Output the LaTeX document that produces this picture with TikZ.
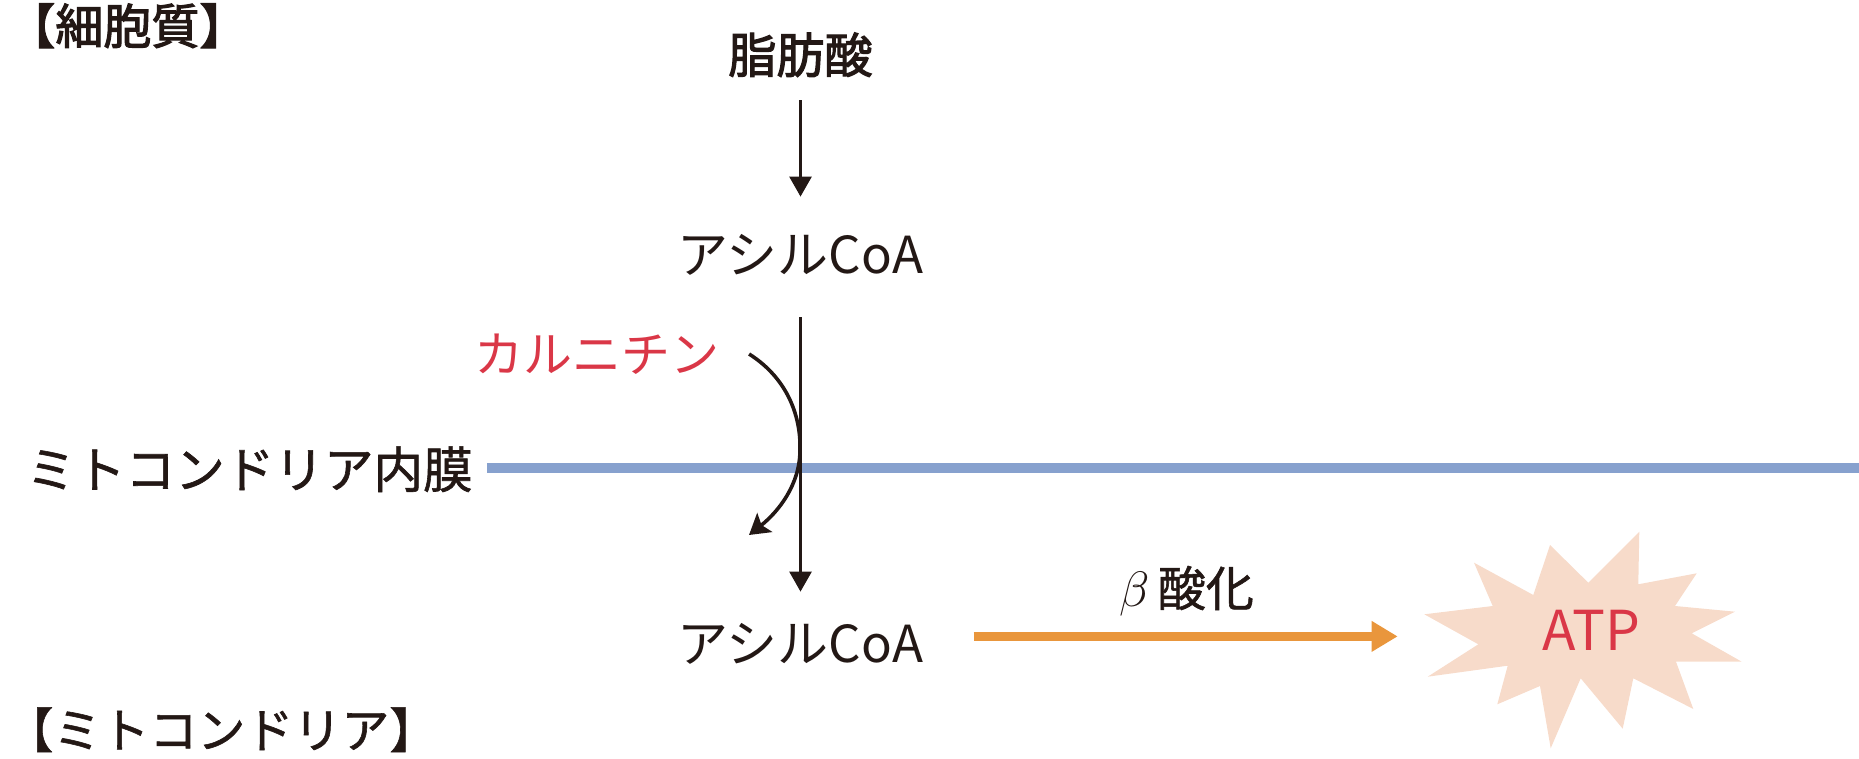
\documentclass[tikz,border=0pt]{standalone}
\usepackage{fontspec}
\setmainfont{Noto Sans CJK JP}
\newfontfamily\jpmed{Noto Sans CJK JP}[FakeBold=1.2]
\newfontfamily\jpbold{Noto Sans CJK JP}[FakeBold=2.4]
\usetikzlibrary{arrows.meta, positioning}

\definecolor{ink}{HTML}{231815}
\definecolor{carnred}{HTML}{DA3747}
\definecolor{membraneblue}{HTML}{87A1CE}
\definecolor{betaorange}{HTML}{E9963C}
\definecolor{burstfill}{HTML}{F7DBCA}

\begin{document}
\begin{tikzpicture} [x = 0.5pt, y = 0.5pt, node distance = 100.5pt, on grid,
        every node/.style = {inner sep = 0pt, text height = 21pt, text depth = 3pt, text = ink,
            font = \fontsize{24}{29}\selectfont},
        heading/.style = {font = \jpbold\fontsize{24}{29}\selectfont},
        medium/.style = {font = \jpmed\fontsize{24}{29}\selectfont},
        acyl/.style = {font = \fontsize{25.5}{30}\selectfont},
        flow/.style = {-{Triangle[length = 10pt, width = 11pt]}, line width = 1.4pt, draw = ink},
        carry/.style = {-{Stealth[length = 10pt, width = 12pt, inset = 2pt]}, line width = 1.8pt, draw = ink},
        membrane/.style = {line width = 5pt, draw = membraneblue},
        beta/.style = {-{Triangle[length = 13pt, width = 14.5pt]}, line width = 4.6pt, draw = betaorange}]
        \useasboundingbox (0,0) rectangle (1859,-759);

        % compartments
        \node (cyto) [heading, anchor = west] at (7,-26) {【細胞質】};
        \node (mito) [medium, anchor = west] at (5,-730) {【ミトコンドリア】};
        \node (memlbl) [medium, anchor = west, font = \jpmed\fontsize{24.8}{29}\selectfont] at (26,-470) {ミトコンドリア内膜};
        \coordinate (memend) at (1859,-468);
        \draw [membrane, shorten <= 6.8pt] (memlbl.east |- memend) -- (memend);

        % main column
        \node (fa) [heading] at (800.5,-55) {脂肪酸};
        \node (acyl1) [acyl, below = of fa] {アシルCoA};
        \node (acyl2) [acyl, below = 194pt of acyl1] {アシルCoA};
        \draw [flow, shorten <= 10.5pt, shorten >= 17.5pt] (fa) -- (acyl1);
        \draw [flow, shorten <= 18.5pt, shorten >= 14pt] (acyl1) -- (acyl2);

        % carnitine shuttle
        \node (carn) [text = carnred, font = \fontsize{24.5}{29}\selectfont] at (597,-354) {カルニチン};
        \coordinate (carnend) at (749,-535);
        \draw [carry] ([xshift = 14.6pt]carn.east) .. controls (790,-380) and (801,-420) .. (800,-450)
            .. controls (800,-485) and (778,-512) .. (carnend);

        % beta oxidation
        \fill [burstfill] plot coordinates {(1639.3,-531.7) (1638.3,-584.3) (1696.7,-573.3) (1675,-606)
            (1735,-611.7) (1691.7,-633.3) (1741.7,-661.7) (1676,-661.7) (1693.3,-709) (1633.3,-678.3)
            (1622.7,-728.7) (1580.7,-678.3) (1550.7,-748.3) (1540,-686) (1497.3,-704.3) (1507.7,-665.7)
            (1427.7,-676.7) (1478.3,-644.3) (1424.3,-614.3) (1492.7,-606) (1474,-562.7) (1533.3,-595)
            (1550,-545) (1588.3,-582.7)} -- cycle;
        \node (atp) [text = carnred, text height = 20pt, text depth = 0pt, font = \fontsize{27.5}{33}\selectfont]
            at (1591,-630) {ATP};
        \coordinate (atpin) at (1397.7,-636.4);
        \draw [beta, shorten <= 25pt] (acyl2.east |- atpin) -- node [medium, above = 9.75pt, pos = 0.555] {$\beta$\,酸化} (atpin);

    \end{tikzpicture}
\end{document}
